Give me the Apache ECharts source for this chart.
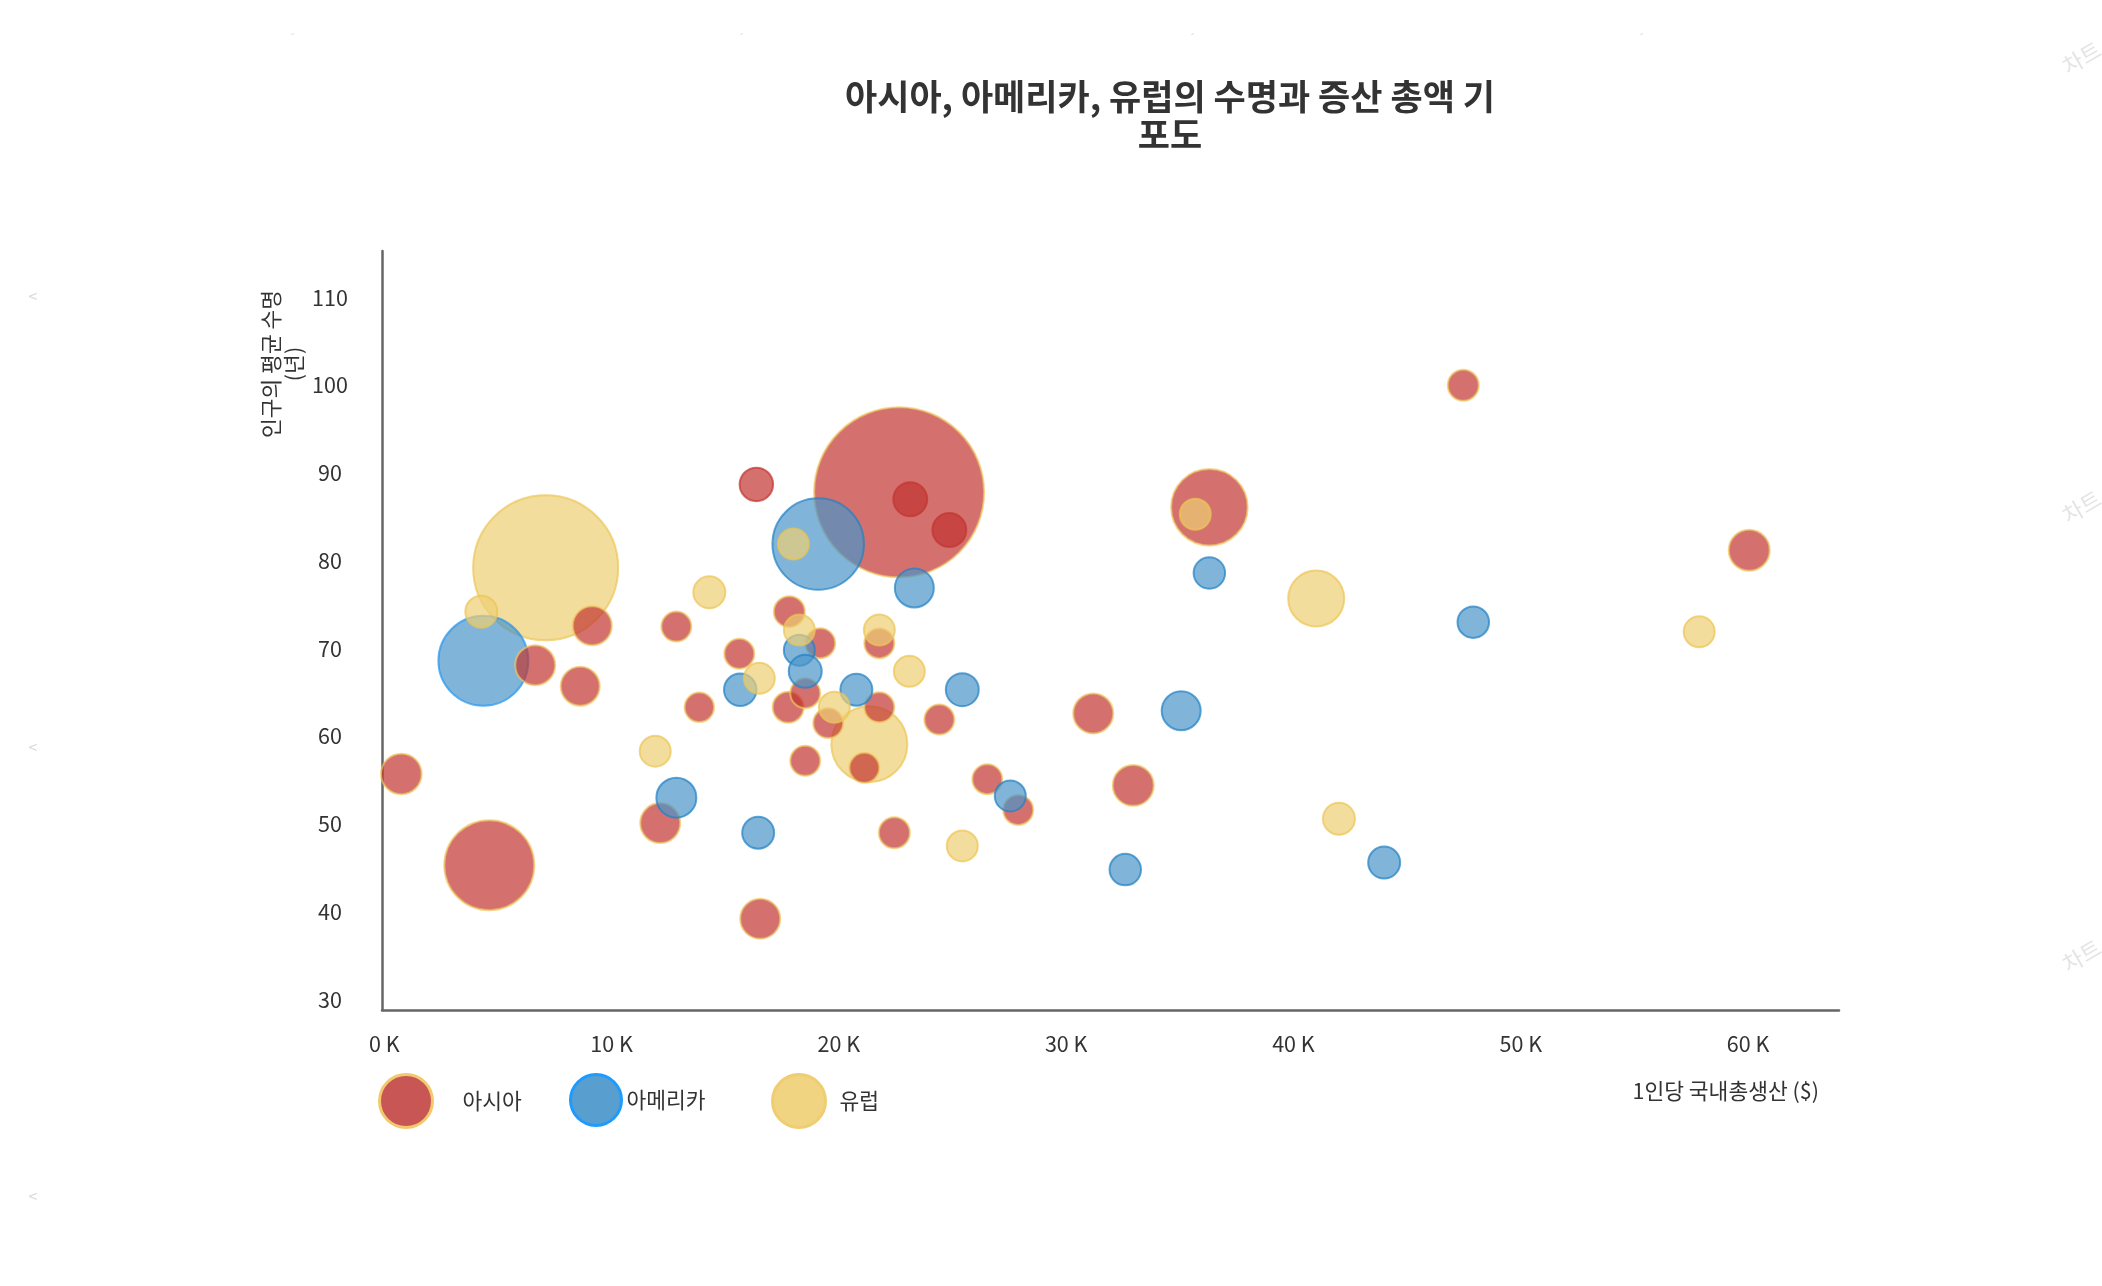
<!DOCTYPE html>
<html>
<head>
<meta charset="utf-8">
<script src="https://cdn.jsdelivr.net/npm/echarts@6/dist/echarts.min.js"></script>
<style>
html, body { margin: 0; padding: 0; background: #ffffff; }
#chart { width: 2102px; height: 1286px; }
</style>
</head>
<body>
<div id="chart"></div>
<script>
// ---- data ----
const seriesNames = ['아시아', '아메리카', '유럽'];
// [1인당 GDP (천 달러), 평균 수명 (년), 인구 (백만, 추정)]
const asiaData = [
  [0.75, 55.7, 103], [4.62, 45.3, 506], [6.64, 68.1, 100], [9.15, 72.6, 95],
  [8.62, 65.7, 95], [12.85, 72.5, 56], [12.14, 50.1, 100], [13.86, 63.3, 54],
  [15.62, 69.4, 56], [16.37, 88.7, 70], [16.54, 39.2, 100], [17.82, 74.2, 60],
  [17.77, 63.3, 60], [18.52, 57.2, 56], [18.52, 64.9, 56], [19.18, 70.6, 56],
  [19.53, 61.5, 56], [21.12, 56.4, 56], [21.78, 70.6, 56], [21.78, 63.3, 56],
  [22.44, 49.0, 60], [22.65, 87.8, 1806], [23.14, 87.0, 72], [24.86, 83.5, 72],
  [24.42, 61.9, 56], [26.53, 55.1, 56], [27.89, 51.6, 56], [31.19, 62.6, 100],
  [32.95, 54.4, 105], [36.3, 86.1, 366], [47.47, 100.0, 60], [60.05, 81.2, 105]
];
const americaData = [
  [4.36, 68.6, 506], [12.85, 53.0, 100], [16.45, 49.0, 64], [15.66, 65.3, 66],
  [18.26, 69.8, 60], [18.52, 67.4, 68], [19.09, 81.9, 523], [20.77, 65.3, 64],
  [23.32, 76.9, 95], [25.43, 65.3, 68], [27.54, 53.2, 60], [32.6, 44.8, 62],
  [35.06, 62.9, 95], [36.3, 78.6, 62], [43.99, 45.6, 64], [47.91, 73.0, 62]
];
const europeData = [
  [4.27, 74.2, 64], [7.1, 79.2, 1314], [11.92, 58.3, 60], [14.3, 76.4, 64],
  [16.5, 66.6, 60], [18.0, 81.9, 60], [18.26, 72.1, 60], [19.8, 63.3, 60],
  [21.34, 59.1, 361], [21.78, 72.1, 60], [23.1, 67.4, 60], [25.43, 47.5, 60],
  [35.68, 85.3, 60], [41.0, 75.7, 196], [42.0, 50.6, 64], [57.85, 71.9, 60]
];
const xTickValues = [0, 10, 20, 30, 40, 50, 60];
const yTickValues = [30, 40, 50, 60, 70, 80, 90, 100, 110];
const titleText = '아시아, 아메리카, 유럽의 수명과 증산 총액 기\n포도';
const yAxisName = '인구의 평균 수명\n(년)';
const xAxisName = '1인당 국내총생산 ($)';

// ---- styles ----
const FONT = '"Noto Sans CJK KR", "Noto Sans", sans-serif';
const TEXT = '#333333';
const FS = 21.5;
const regionStyles = [
  { color: '#c23531', border: '#f0c860', legendColor: '#c85654', legendBorder: '#f2c96d', textPad: [16, 0, 0, 25], left: 378, w: 53 },
  { color: '#4a95c9', border: '#1f80c4', legendColor: '#589ece', legendBorder: '#1e9bff', textPad: [2, 0, 0, 0], left: 569, w: 51 },
  { color: '#eecf74', border: '#ecc452', legendColor: '#f0d482', legendBorder: '#efcd70', textPad: [16, 0, 0, 9], left: 771, w: 53 }
];
// points drawn with a different outline
const borderOverrides = [
  { 9: '#c23531', 22: '#c23531', 23: '#c23531' },
  { 0: '#2196f3' },
  {}
];

const allData = [asiaData, americaData, europeData];
const sizeOf = v => Math.sqrt(v[2]) * 4;
const tierOf = v => (v[2] >= 1000 ? 0 : v[2] >= 300 ? 1 : 2);

const series = [];
[0, 1, 2].forEach(tier => {
  allData.forEach((arr, r) => {
    const st = regionStyles[r];
    const items = [];
    arr.forEach((v, i) => {
      if (tierOf(v) !== tier) return;
      const ov = borderOverrides[r][i];
      items.push(ov ? { value: v, itemStyle: { borderColor: ov } } : { value: v });
    });
    if (!items.length) return;
    series.push({
      type: 'scatter',
      name: seriesNames[r],
      z: 2 + tier,
      data: items,
      symbol: 'circle',
      symbolSize: sizeOf,
      itemStyle: { color: st.color, opacity: 0.7, borderColor: st.border, borderWidth: 2 },
      emphasis: { disabled: true }
    });
  });
});

const legends = seriesNames.map((name, r) => ({
  data: [name],
  left: regionStyles[r].left,
  top: 1073,
  padding: 0,
  icon: 'circle',
  itemWidth: regionStyles[r].w,
  itemHeight: 53,
  selectedMode: false,
  itemStyle: { color: regionStyles[r].legendColor, borderColor: regionStyles[r].legendBorder, borderWidth: 3, opacity: 1 },
  textStyle: { fontSize: FS, color: TEXT, fontFamily: FONT, padding: regionStyles[r].textPad }
}));

const graphics = [
  { type: 'text', x: 1170, y: 116, silent: true,
    style: { text: titleText, align: 'center', verticalAlign: 'middle', fontSize: 35, fontWeight: 'bold', fontFamily: FONT, fill: '#333333', lineHeight: 38 } },
  { type: 'text', x: 282, y: 364, rotation: Math.PI / 2, silent: true,
    style: { text: yAxisName, align: 'center', verticalAlign: 'middle', fontSize: FS, fontFamily: FONT, fill: TEXT, lineHeight: 23 } },
  { type: 'text', x: 1819, y: 1091, silent: true,
    style: { text: xAxisName, align: 'right', verticalAlign: 'middle', fontSize: FS, fontFamily: FONT, fill: TEXT } }
];
// faint background watermark fragments
[54, 503, 952].forEach(y => graphics.push({ type: 'text', x: 2064, y: y + 14, rotation: Math.PI / 6, silent: true,
  style: { text: '차트', fontSize: 22, fontFamily: FONT, fill: '#e4e4e4', align: 'left', verticalAlign: 'middle' } }));
[296, 747, 1196].forEach(y => graphics.push({ type: 'text', x: 33, y: y, silent: true,
  style: { text: '<', fontSize: 16, fontFamily: FONT, fill: '#dadada', align: 'center', verticalAlign: 'middle' } }));
[292, 741, 1192, 1641].forEach(x => graphics.push({ type: 'text', x: x, y: 33, rotation: Math.PI / 6, silent: true,
  style: { text: '-', fontSize: 12, fontFamily: FONT, fill: '#dddddd', align: 'center', verticalAlign: 'middle' } }));

const chart = echarts.init(document.getElementById('chart'), null, { renderer: 'canvas' });
chart.setOption({
  animation: false,
  backgroundColor: '#ffffff',
  grid: { left: 382, right: 263, top: 251, bottom: 276, containLabel: false, outerBoundsMode: 'none' },
  xAxis: {
    type: 'value', min: -0.1, max: 64,
    axisLine: { show: true, onZero: false, lineStyle: { color: '#666666', width: 2.5 } },
    axisTick: { show: false },
    splitLine: { show: false },
    axisLabel: { customValues: xTickValues, formatter: '{value} K', margin: 23, fontSize: FS, color: TEXT, fontFamily: FONT }
  },
  yAxis: {
    type: 'value', min: 28.8, max: 115.3,
    axisLine: { show: true, onZero: false, lineStyle: { color: '#666666', width: 2.5 } },
    axisTick: { show: false },
    splitLine: { show: false },
    axisLabel: { customValues: yTickValues, margin: 52, align: 'center', fontSize: FS, color: TEXT, fontFamily: FONT }
  },
  legend: legends,
  graphic: graphics,
  series: series
});
</script>
</body>
</html>
